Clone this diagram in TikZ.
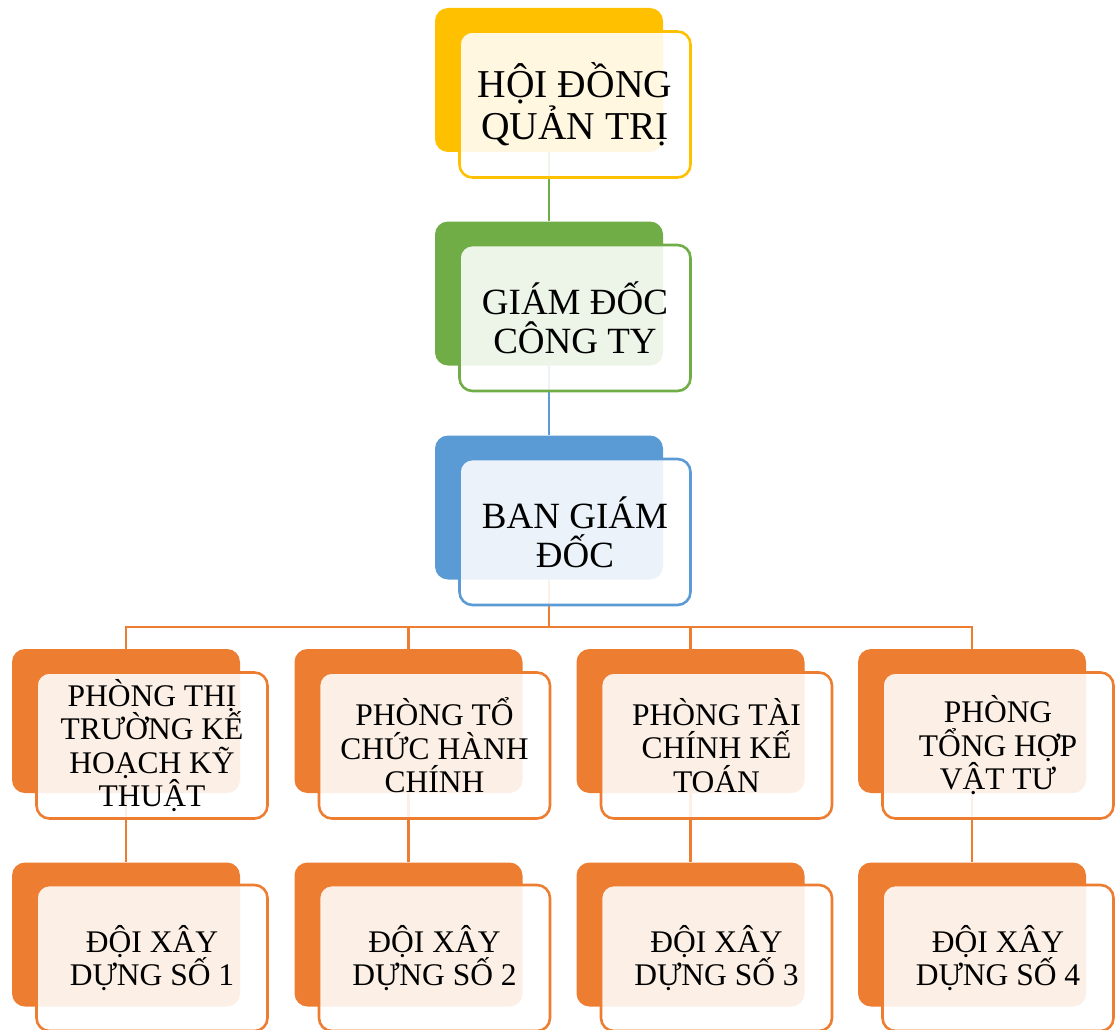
\documentclass[tikz,border=0pt]{standalone}
\usepackage{fontspec}
\setmainfont{Liberation Serif}
\usetikzlibrary{calc}

\definecolor{accgold}{HTML}{FFC000}
\definecolor{accgreen}{HTML}{70AD47}
\definecolor{accblue}{HTML}{5B9BD5}
\definecolor{accorange}{HTML}{ED7D31}

\tikzset{
  backbox/.style={rectangle, rounded corners=13pt, minimum width=228pt,
    minimum height=144pt, inner sep=0pt, fill=#1},
  frontbox/.style={rectangle, rounded corners=13pt, minimum width=231pt,
    minimum height=146pt, inner sep=0pt, draw=#1, line width=2.6pt,
    fill=white, fill opacity=0.88, text opacity=1, draw opacity=1,
    align=center},
  link/.style={draw=#1, line width=2.4pt},
  bigtext/.style={font=\fontsize{39.5}{42}\selectfont},
  midtext/.style={font=\fontsize{37}{39}\selectfont},
  smalltext/.style={font=\fontsize{31.5}{33.5}\selectfont},
}

\begin{document}
\begin{tikzpicture}[x=1pt, y=-1pt]
  \useasboundingbox (0,0) rectangle (1119,1030);

  % back plates and connectors first, cards on top
  \node[backbox=accgold] (hdqt-b) at (549,80) {};
  \node[backbox=accgreen] (gd-b) at (549,293.5) {};
  \node[backbox=accblue] (bgd-b) at (549,507.5) {};
  \foreach \n/\x in {p1/126, p2/408.5, p3/690.5, p4/972} {
    \node[backbox=accorange] (\n-b) at (\x,721) {};
  }
  \foreach \n/\x in {d1/126, d2/408.5, d3/690.5, d4/972} {
    \node[backbox=accorange] (\n-b) at (\x,934.5) {};
  }

  \draw[link=accgreen] (hdqt-b.south) -- (gd-b.north);
  \draw[link=accblue] (gd-b.south) -- (bgd-b.north);

  \coordinate (bus) at ($(bgd-b.south)+(0,47.5)$);
  \draw[link=accorange] (bgd-b.south) -- (bus);
  \draw[link=accorange] (p1-b.north) |- (bus) -| (p4-b.north);
  \draw[link=accorange] (p2-b.north) -- (p2-b.north |- bus);
  \draw[link=accorange] (p3-b.north) -- (p3-b.north |- bus);
  \foreach \i in {1,2,3,4} {
    \draw[link=accorange] (p\i-b.south) -- (d\i-b.north);
  }

  % text cards
  \node[frontbox=accgold, bigtext] (hdqt) at ($(hdqt-b)+(26,24.5)$)
    {HỘI ĐỒNG\\QUẢN TRỊ};
  \node[frontbox=accgreen, midtext] (gd) at ($(gd-b)+(26,24.5)$)
    {GIÁM ĐỐC\\CÔNG TY};
  \node[frontbox=accblue, midtext] (bgd) at ($(bgd-b)+(26,24.5)$)
    {BAN GIÁM\\ĐỐC};

  \node[frontbox=accorange, smalltext] (p1) at ($(p1-b)+(26,24.5)$)
    {PHÒNG THỊ\\TRƯỜNG KẾ\\HOẠCH KỸ\\THUẬT};
  \node[frontbox=accorange, smalltext] (p2) at ($(p2-b)+(26,24.5)$)
    {PHÒNG TỔ\\CHỨC HÀNH\\CHÍNH};
  \node[frontbox=accorange, smalltext] (p3) at ($(p3-b)+(26,24.5)$)
    {PHÒNG TÀI\\CHÍNH KẾ\\TOÁN};
  \node[frontbox=accorange, smalltext] (p4) at ($(p4-b)+(26,24.5)$)
    {PHÒNG\\TỔNG HỢP\\VẬT TƯ};

  \foreach \i in {1,2,3,4} {
    \node[frontbox=accorange, smalltext] (d\i) at ($(d\i-b)+(26,23.5)$)
      {ĐỘI XÂY\\DỰNG SỐ \i};
  }
\end{tikzpicture}
\end{document}
